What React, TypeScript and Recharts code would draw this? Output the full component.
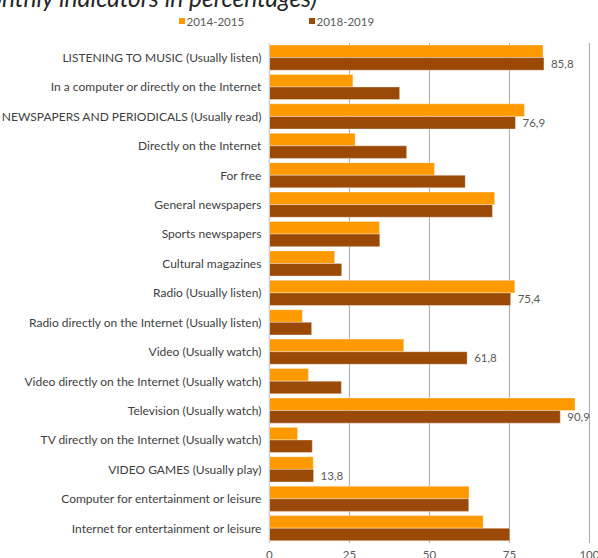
import React from 'react';
import { BarChart, Bar, XAxis, YAxis, CartesianGrid, Legend, LabelList } from 'recharts';

const categories = [
  'LISTENING TO MUSIC (Usually listen)',
  'In a computer or directly on the Internet',
  'NEWSPAPERS AND PERIODICALS (Usually read)',
  'Directly on the Internet',
  'For free',
  'General newspapers',
  'Sports newspapers',
  'Cultural magazines',
  'Radio (Usually listen)',
  'Radio directly on the Internet (Usually listen)',
  'Video (Usually watch)',
  'Video directly on the Internet (Usually watch)',
  'Television (Usually watch)',
  'TV directly on the Internet (Usually watch)',
  'VIDEO GAMES (Usually play)',
  'Computer for entertainment or leisure',
  'Internet for entertainment or leisure',
];

const series2014 = [85.5, 26.1, 79.7, 26.8, 51.6, 70.4, 34.4, 20.4, 76.7, 10.3, 42.0, 12.2, 95.5, 8.8, 13.7, 62.4, 66.8];
const series2018 = [85.8, 40.7, 76.9, 42.9, 61.2, 69.7, 34.5, 22.6, 75.4, 13.2, 61.8, 22.5, 90.9, 13.4, 13.8, 62.3, 75.1];
const labels2018 = ['85,8', '', '76,9', '', '', '', '', '', '75,4', '', '61,8', '', '90,9', '', '13,8', '', ''];

const xTicks = [0, 25, 50, 75, 100];
const seriesNames = ['2014-2015', '2018-2019'];
const colors = ['#FF9900', '#9A4A06'];
const titleText = '(Monthly indicators in percentages)';

const data = categories.map((c, i) => ({
  name: c,
  a: series2014[i],
  b: series2018[i],
  lbl: labels2018[i],
}));

const FONT = 'Lato, "Open Sans", sans-serif';

const YTick = (props: any) => {
  const { x, y, payload } = props;
  return (
    <text x={x - 8} y={y} dy="0.36em" textAnchor="end" fontSize={12} fill="#404040" fontFamily={FONT}>
      {payload.value}
    </text>
  );
};

const XTick = (props: any) => {
  const { x, y, payload } = props;
  return (
    <text x={x} y={y + 16} textAnchor="middle" fontSize={11.5} fill="#595959" fontFamily={FONT}>
      {payload.value}
    </text>
  );
};

const ValueLabel = (props: any) => {
  const { x, y, width, height, value } = props;
  if (!value) return null;
  return (
    <text x={x + width + 7} y={y + height / 2} dy="0.36em" fontSize={11.5} fill="#595959" fontFamily={FONT}>
      {value}
    </text>
  );
};

const LegendContent = () => (
  <div style={{ position: 'relative', width: 598, height: 20, fontFamily: FONT, fontSize: 11.5, color: '#595959' }}>
    {[179, 309].map((left, i) => (
      <div key={i} style={{ position: 'absolute', left, top: 0, display: 'flex', alignItems: 'center', height: 14 }}>
        <span style={{ display: 'inline-block', width: 6, height: 6, background: colors[i], marginRight: 1.5 }} />
        <span>{seriesNames[i]}</span>
      </div>
    ))}
  </div>
);

export default function App() {
  return (
    <div style={{ position: 'absolute', left: 0, top: 0, width: 598, height: 558, overflow: 'hidden', background: '#fff' }}>
      <svg width={598} height={30} style={{ position: 'absolute', left: 0, top: 0 }}>
        <text x={317} y={7} textAnchor="end" fontSize={24.5} fontStyle="italic" fill="#262626" fontFamily={FONT}>
          {titleText}
        </text>
      </svg>
      <BarChart
        width={598}
        height={563}
        data={data}
        layout="vertical"
        margin={{ top: 43, right: 8.6, left: 0, bottom: 0 }}
        barGap={0}
      >
        <CartesianGrid horizontal={false} stroke="#a6a6a6" strokeWidth={1} />
        <XAxis
          type="number"
          domain={[0, 100]}
          ticks={xTicks}
          axisLine={false}
          tickLine={false}
          tickSize={0}
          tickMargin={0}
          height={20}
          tick={<XTick />}
          interval={0}
        />
        <YAxis
          type="category"
          dataKey="name"
          width={269.4}
          axisLine={{ stroke: '#d0d0d0' }}
          tickLine={false}
          tickSize={0}
          tickMargin={0}
          tick={<YTick />}
          interval={0}
        />
        <Legend
          layout="vertical"
          align="center"
          verticalAlign="middle"
          wrapperStyle={{ position: 'absolute', top: 14, left: 0, width: 598, height: 20 }}
          content={<LegendContent />}
        />
        <Bar dataKey="a" name={seriesNames[0]} fill={colors[0]} barSize={12.6} stroke="rgba(255,255,255,0.45)" strokeWidth={0.8} isAnimationActive={false} />
        <Bar dataKey="b" name={seriesNames[1]} fill={colors[1]} barSize={12.6} stroke="rgba(255,255,255,0.45)" strokeWidth={0.8} isAnimationActive={false}>
          <LabelList dataKey="lbl" content={<ValueLabel />} />
        </Bar>
      </BarChart>
    </div>
  );
}
